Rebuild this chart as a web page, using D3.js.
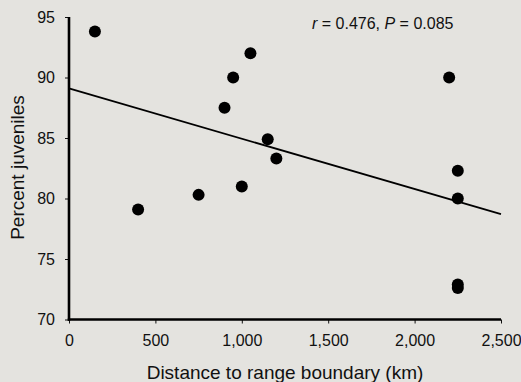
<!DOCTYPE html>
<html>
<head>
<meta charset="utf-8">
<script src="https://cdn.jsdelivr.net/npm/d3@7"></script>
<style>
  html, body { margin: 0; padding: 0; background: #e4e3df; }
  svg { display: block; }
  text { font-family: "Liberation Sans", Arial, sans-serif; fill: #111; }
</style>
</head>
<body>
<svg id="chart" width="521" height="382"></svg>
<script>
// Data
const distanceKm = [150, 400, 750, 900, 950, 1000, 1050, 1150, 1200, 2200, 2250, 2250, 2250, 2250];
const percentJuv = [93.8, 79.1, 80.3, 87.5, 90.0, 81.0, 92.0, 84.9, 83.3, 90.0, 82.3, 80.0, 72.9, 72.6];
const fitX = [0, 2500];
const fitY = [89.1, 78.7];
const xTicks = [0, 500, 1000, 1500, 2000, 2500];
const yTicks = [70, 75, 80, 85, 90, 95];
const xTitle = "Distance to range boundary (km)";
const yTitle = "Percent juveniles";

const svg = d3.select("#chart");
const mLeft = 69, mRight = 501, mTop = 17, mBottom = 319.5;

const x = d3.scaleLinear().domain([0, 2500]).range([mLeft, mRight]);
const y = d3.scaleLinear().domain([70, 95]).range([mBottom, mTop]);

svg.append("rect").attr("width", 521).attr("height", 382).attr("fill", "#e4e3df");

// Y axis
const yAxis = svg.append("g")
  .attr("transform", `translate(${mLeft},0)`)
  .call(d3.axisLeft(y).tickValues(yTicks).tickSize(4).tickPadding(10).tickFormat(d3.format("d")));
yAxis.select(".domain").remove();
yAxis.selectAll(".tick line").attr("stroke", "#111").attr("stroke-width", 1);
yAxis.selectAll(".tick text").attr("font-size", 16).attr("font-family", "Liberation Sans, Arial, sans-serif").attr("fill", "#111");

// X axis
const xAxis = svg.append("g")
  .attr("transform", `translate(0,${mBottom})`)
  .call(d3.axisBottom(x).tickValues(xTicks).tickSize(4).tickPadding(11).tickFormat(d3.format(",")));
xAxis.select(".domain").remove();
xAxis.selectAll(".tick line").attr("stroke", "#111").attr("stroke-width", 1);
xAxis.selectAll(".tick text").attr("font-size", 16).attr("font-family", "Liberation Sans, Arial, sans-serif").attr("fill", "#111");

// Axis lines (thick)
svg.append("line").attr("x1", mLeft).attr("x2", mLeft).attr("y1", y(95)).attr("y2", mBottom + 1.2)
  .attr("stroke", "#000").attr("stroke-width", 2.6);
svg.append("line").attr("x1", mLeft - 1.2).attr("x2", mRight).attr("y1", mBottom).attr("y2", mBottom)
  .attr("stroke", "#000").attr("stroke-width", 2.6);

// Regression line
const line = d3.line().x(d => x(d[0])).y(d => y(d[1]));
svg.append("path")
  .datum(fitX.map((v, i) => [v, fitY[i]]))
  .attr("d", line)
  .attr("fill", "none").attr("stroke", "#000").attr("stroke-width", 1.8);

// Points
svg.append("g").selectAll("circle")
  .data(distanceKm.map((d, i) => [d, percentJuv[i]]))
  .join("circle")
  .attr("cx", d => x(d[0]))
  .attr("cy", d => y(d[1]))
  .attr("r", 6)
  .attr("fill", "#000");

// Stats text
const st = svg.append("text").attr("x", 312).attr("y", 29).attr("font-size", 16);
st.append("tspan").attr("font-style", "italic").text("r");
st.append("tspan").text(" = 0.476, ");
st.append("tspan").attr("font-style", "italic").text("P");
st.append("tspan").text(" = 0.085");

// Axis titles
svg.append("text").attr("x", (mLeft + mRight) / 2).attr("y", 379).attr("text-anchor", "middle")
  .attr("font-size", 19).text(xTitle);
svg.append("text").attr("transform", `translate(24,${(95 + 240) / 2}) rotate(-90)`)
  .attr("text-anchor", "middle").attr("font-size", 19).text(yTitle);
</script>
</body>
</html>
